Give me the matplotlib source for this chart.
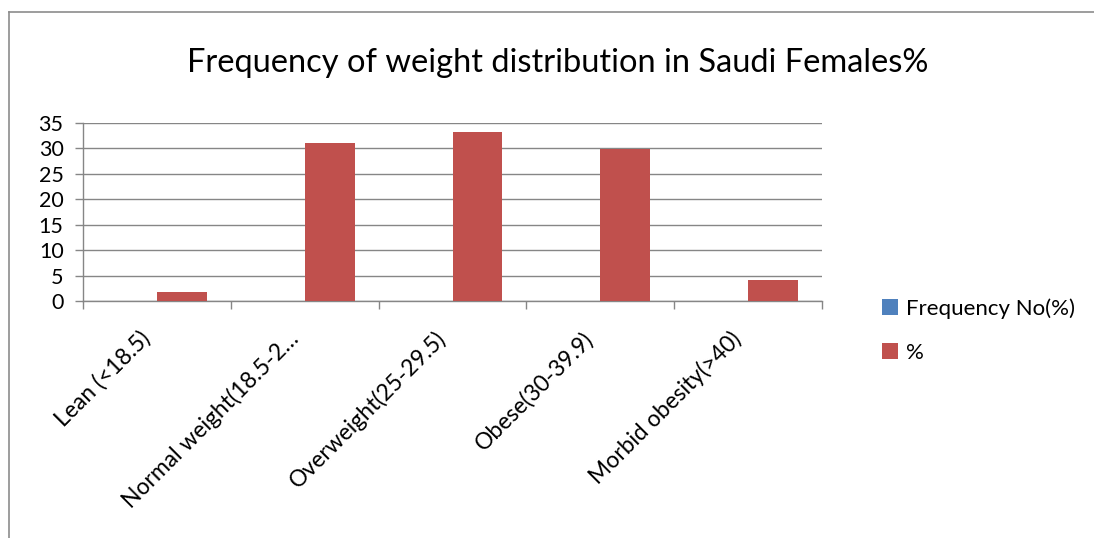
import numpy as np
import matplotlib.pyplot as plt
from matplotlib.lines import Line2D
from matplotlib.transforms import ScaledTranslation

plt.rcParams['font.family'] = ['Lato', 'DejaVu Sans']

# dados
categorias = ["Lean (<18.5)", "Normal weight(18.5-2\u2026", "Overweight(25-29.5)",
              "Obese(30-39.9)", "Morbid obesity(>40)"]
freq_no = [0, 0, 0, 0, 0]
pct = [1.8, 31.1, 33.2, 29.9, 4.2]
y_ticks = [0, 5, 10, 15, 20, 25, 30, 35]

azul = "#4F81BD"
vermelho = "#C0504D"
cinza = "#868686"

fig = plt.figure(figsize=(10.94, 5.38), dpi=100)
ax = fig.add_axes([83 / 1094, 1 - 301 / 538, (822 - 83) / 1094, (301 - 123) / 538])

x = np.arange(len(categorias))
w = 0.338
ax.bar(x - w / 2, freq_no, width=w, color=azul, label="Frequency No(%)", zorder=3)
ax.bar(x + w / 2, pct, width=w, color=vermelho, label="%", zorder=3)

ax.set_xlim(-0.5, len(categorias) - 0.5)
ax.set_ylim(0, 35)
ax.set_yticks(y_ticks)
ax.set_yticklabels([str(v) for v in y_ticks], fontsize=15.5)
ax.yaxis.grid(True, color=cinza, linewidth=1, zorder=0)

# rotulos no centro, ticks nas divisas
ax.set_xticks(x)
ax.set_xticklabels(categorias, fontsize=16.5, rotation=45, ha='right',
                   rotation_mode='anchor', va='center')
ax.set_xticks(np.arange(-0.5, len(categorias)), minor=True)
ax.tick_params(axis='x', which='major', length=0, pad=26)
ax.tick_params(axis='x', which='minor', length=6, color=cinza, width=1)
ax.tick_params(axis='y', length=6, color=cinza, width=1, pad=8)
desloc = ScaledTranslation(-0.10, 0.02, fig.dpi_scale_trans)
for lbl in ax.get_xticklabels():
    lbl.set_transform(lbl.get_transform() + desloc)

for s in ['top', 'right']:
    ax.spines[s].set_visible(False)
for s in ['left', 'bottom']:
    ax.spines[s].set_color(cinza)
    ax.spines[s].set_linewidth(1)

fig.text(558 / 1094, 1 - 63 / 538, "Frequency of weight distribution in Saudi Females%",
         ha='center', va='center', fontsize=23.5)

fig.legend(loc='upper left', bbox_to_anchor=(862 / 1094, 1 - 278 / 538), frameon=False,
           fontsize=16, handlelength=0.7, handleheight=0.7, labelspacing=1.1,
           handletextpad=0.4)

# borda do grafico (so em cima e a esquerda)
fig.add_artist(Line2D([8.5 / 1094, 8.5 / 1094], [0, 1 - 12 / 538], color="#8c8c8c", lw=1.2))
fig.add_artist(Line2D([8.5 / 1094, 1], [1 - 12 / 538, 1 - 12 / 538], color="#8c8c8c", lw=1.2))

fig.savefig("out.png", dpi=100)
